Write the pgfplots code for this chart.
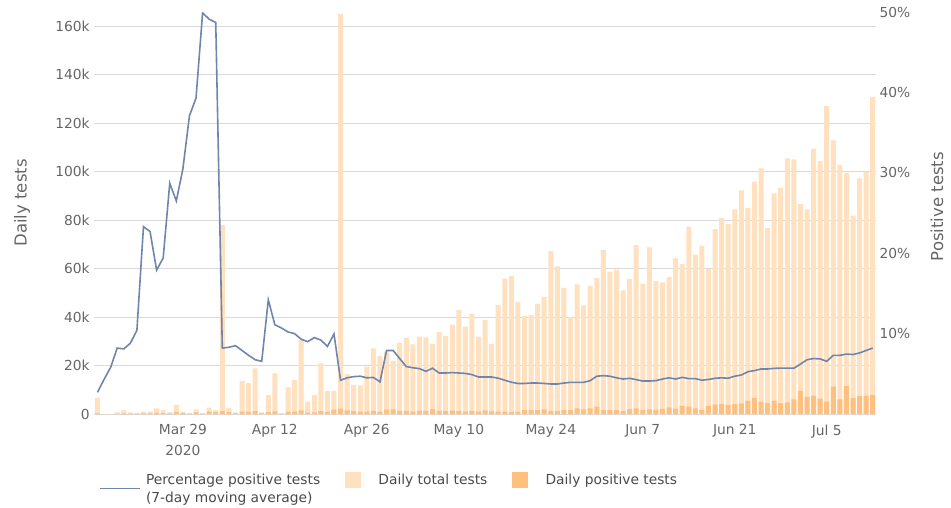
\documentclass[border=0pt]{standalone}
\usepackage{pgfplots}
\pgfplotsset{compat=1.18}
\usepackage{pgfplotstable}
\usepackage{fontspec}
\setmainfont{DejaVu Sans}
\definecolor{lightbar}{HTML}{FFE0BF}
\definecolor{darkbar}{HTML}{FFBF7F}
\definecolor{linecol}{HTML}{7085AC}
\definecolor{gridc}{HTML}{DADADA}
\definecolor{txt}{HTML}{666666}
\definecolor{legtxt}{HTML}{4A4A4A}

\pgfplotstableread{
d total pos pct
0 6.7 0.3 2.7
1 0 0 4.3
2 0 0 5.8
3 0.7 0.2 8.2
4 1.6 0.3 8.1
5 0.7 0.2 8.8
6 0.4 0.2 10.4
7 1.0 0.3 23.3
8 1.0 0.3 22.7
9 2.3 0.5 17.9
10 1.6 0.4 19.4
11 0.7 0.3 28.7
12 3.7 0.8 26.5
13 1.0 0.4 30.5
14 0.4 0.2 37.1
15 1.9 0.7 39.3
16 0.4 0.2 49.9
17 2.6 1.0 49.1
18 1.6 0.8 48.7
19 77.9 1.2 8.2
20 2.5 0.8 8.3
21 0.7 0.3 8.5
22 13.6 1.0 7.9
23 12.7 0.9 7.3
24 18.8 1.2 6.75
25 0.7 0.3 6.55
26 7.8 0.8 14.2
27 16.8 1.1 11.1
28 0.3 0.2 10.7
29 11.0 0.9 10.2
30 14.0 1.0 10.0
31 30.5 1.5 9.3
32 5.1 0.6 9.0
33 7.8 0.7 9.5
34 20.9 1.2 9.2
35 9.5 0.8 8.4
36 9.5 1.8 9.95
37 165 2.2 4.2
38 16.5 1.5 4.5
39 12.0 1.2 4.65
40 11.8 1.0 4.7
41 19.5 1.0 4.5
42 27.1 1.3 4.55
43 23.9 1.0 4.0
44 25.7 1.8 7.9
45 22.0 1.9 7.9
46 29.4 1.2 6.9
47 31.3 1.3 5.9
48 28.7 1.0 5.75
49 31.9 1.3 5.65
50 31.6 1.3 5.3
51 28.9 2.0 5.7
52 33.8 1.3 5.1
53 32.2 1.2 5.1
54 36.9 1.4 5.15
55 42.9 1.2 5.1
56 36.0 1.1 5.05
57 41.2 1.3 4.9
58 31.9 1.0 4.6
59 38.8 1.5 4.6
60 28.9 1.1 4.6
61 45.0 1.0 4.45
62 55.8 1.0 4.2
63 57.0 0.8 3.95
64 46.2 0.8 3.8
65 40.5 1.6 3.8
66 40.8 1.6 3.85
67 45.4 1.6 3.85
68 48.3 1.9 3.8
69 67.2 1.2 3.73
70 60.9 1.2 3.73
71 52.0 1.6 3.85
72 40.1 1.6 3.94
73 53.5 2.3 3.94
74 44.8 1.9 3.94
75 52.8 2.3 4.15
76 56.1 3.0 4.7
77 67.6 1.6 4.77
78 58.6 1.6 4.7
79 59.5 1.6 4.5
80 51.0 1.2 4.35
81 55.6 2.0 4.44
82 69.6 2.3 4.27
83 53.8 1.7 4.1
84 68.7 1.9 4.1
85 54.8 1.7 4.15
86 54.3 2.1 4.35
87 56.5 2.7 4.5
88 64.2 2.2 4.35
89 61.9 3.4 4.56
90 77.3 3.0 4.4
91 65.7 2.3 4.4
92 69.3 1.7 4.2
93 59.9 3.4 4.3
94 76.3 4.0 4.44
95 80.8 4.1 4.5
96 78.4 3.7 4.45
97 84.4 4.1 4.7
98 92.2 4.4 4.85
99 85.0 5.4 5.26
100 95.8 6.7 5.4
101 101.3 5.1 5.6
102 76.7 4.5 5.6
103 91.0 5.4 5.68
104 93.3 4.5 5.7
105 105.4 4.8 5.7
106 105.0 6.0 5.7
107 86.6 9.5 6.2
108 84.4 7.1 6.75
109 109.3 7.6 6.9
110 104.3 6.3 6.85
111 127.0 5.1 6.55
112 112.9 11.3 7.3
113 102.8 6.0 7.3
114 99.4 11.5 7.45
115 81.8 6.7 7.4
116 97.2 7.4 7.6
117 99.8 7.6 7.9
118 130.7 7.8 8.2
}\data

\pgfplotsset{
  base/.style={
    at={(94.2pt,93pt)}, anchor=south west,
    width=781.8pt, height=402pt, scale only axis,
    xmin=-0.5, xmax=118.5,
    major tick length=0pt,
    tick label style={font=\fontsize{13.8}{21}\selectfont, text=txt},
    label style={font=\fontsize{16.5}{19}\selectfont, text=txt},
  }
}

\begin{document}
\begin{tikzpicture}
\path[use as bounding box] (0pt,0pt) rectangle (951pt,507pt);
\begin{axis}[base,
  ymin=0, ymax=165.8,
  axis x line*=bottom, axis y line*=left,
  axis line style={draw=none},
  ymajorgrids, grid style={gridc, line width=0.8pt},
  ytick={0,20,40,60,80,100,120,140,160},
  yticklabels={0,20k,40k,60k,80k,100k,120k,140k,160k},
  yticklabel style={xshift=-1pt},
  xtick={13,27,41,55,69,83,97,111},
  xticklabels={{Mar 29\\2020},Apr 12,Apr 26,May 10,May 24,Jun 7,Jun 21,Jul 5},
  xticklabel style={align=center, yshift=-7pt},
  ylabel={Daily tests},
  ylabel style={at={(axis description cs:-0.0924,0.525)}, anchor=center},
  ybar, bar width=5pt,
]
\addplot[fill=lightbar, draw=none, bar shift=0pt] table[x=d,y=total]{\data};
\addplot[fill=darkbar, draw=none, bar shift=0pt] table[x=d,y=pos]{\data};
\end{axis}
\begin{axis}[base,
  ymin=0, ymax=50,
  axis y line*=right, axis x line=none,
  axis line style={draw=none},
  ytick={10,20,30,40,50},
  yticklabels={10\%,20\%,30\%,40\%,50\%},
  ylabel={Positive tests},
  ylabel style={at={(axis description cs:1.078,0.516)}, anchor=center},
  legend columns=3,
  legend style={at={(axis description cs:0.0023,-0.138)}, anchor=north west,
    draw=none, fill=none, font=\fontsize{13.8}{18}\selectfont, text=legtxt,
    cells={align=left, anchor=west},
    /tikz/every even column/.append style={column sep=23pt}},
]
\addplot[linecol, line width=1.6pt, mark=none,
  legend image code/.code={\draw[linecol, line width=1.6pt] (0pt,0pt) -- (40pt,0pt); \path[draw=none,fill=none] (0pt,0pt) -- (44pt,0pt);}]
  table[x=d,y=pct]{\data};
\addlegendentry{Percentage positive tests\\(7-day moving average)}
\addlegendimage{legend image code/.code={\fill[lightbar] (0pt,1.5pt) rectangle (15pt,16.5pt); \path[draw=none,fill=none] (0pt,0pt) -- (31pt,0pt);}}
\addlegendentry{Daily total tests\\\phantom{(7-day}}
\addlegendimage{legend image code/.code={\fill[darkbar] (0pt,1.5pt) rectangle (15pt,16.5pt); \path[draw=none,fill=none] (0pt,0pt) -- (31pt,0pt);}}
\addlegendentry{Daily positive tests\\\phantom{(7-day}}
\end{axis}
\end{tikzpicture}
\end{document}
